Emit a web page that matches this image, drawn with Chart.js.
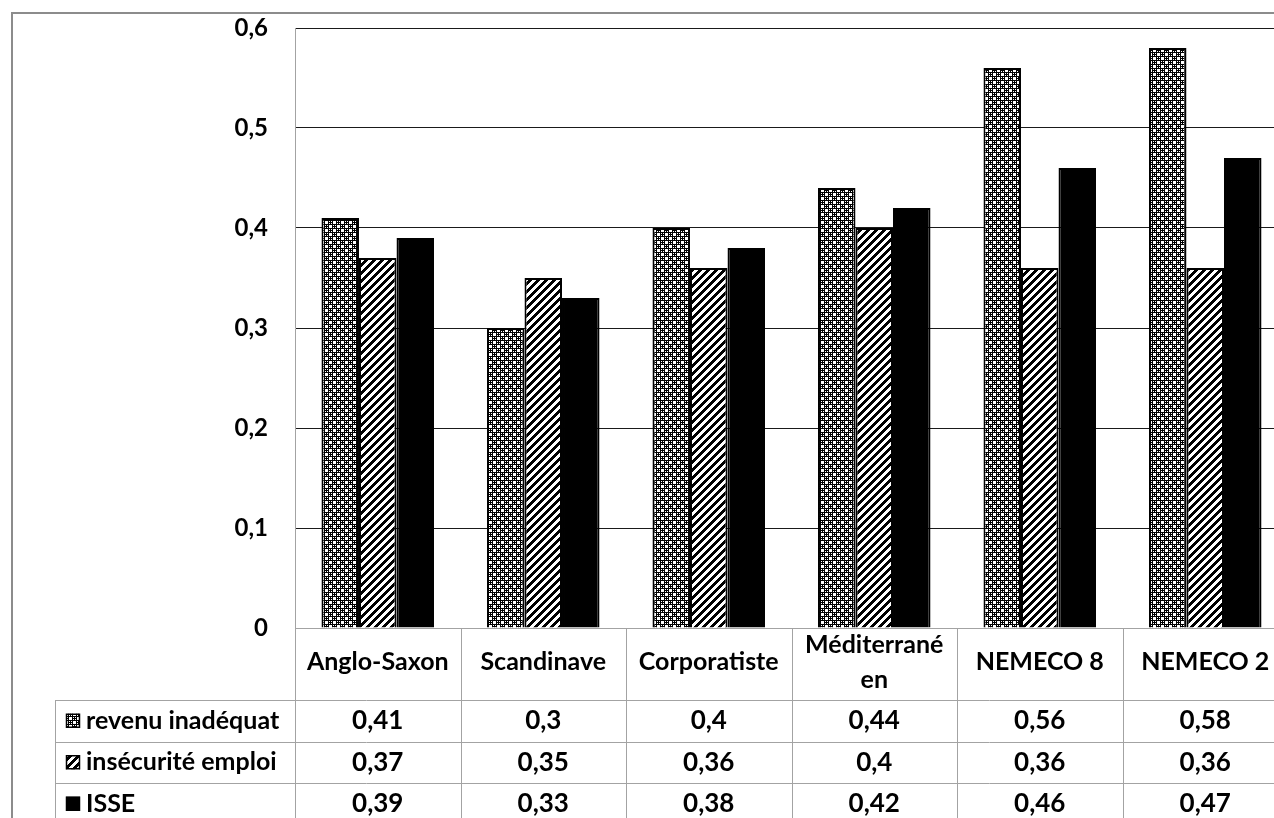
<!DOCTYPE html>
<html>
<head>
<meta charset="utf-8">
<script src="https://cdn.jsdelivr.net/npm/chart.js@4"></script>
<style>
  html, body { margin: 0; padding: 0; background: #fff; overflow: hidden; width: 1274px; height: 818px; }
  #wrap { position: absolute; left: 0; top: 0; width: 1300px; height: 840px; }
</style>
</head>
<body>
<div id="wrap"><canvas id="c" width="1300" height="840"></canvas></div>
<script>
// Regime categories (x axis) and the three indicators
const categories = ['Anglo-Saxon', 'Scandinave', 'Corporatiste', ['Méditerrané', 'en'], 'NEMECO 8', 'NEMECO 2'];
const seriesNames = ['revenu inadéquat', 'insécurité emploi', 'ISSE'];
const revenuInadequat = [0.41, 0.30, 0.40, 0.44, 0.56, 0.58];
const insecuriteEmploi = [0.37, 0.35, 0.36, 0.40, 0.36, 0.36];
const isse = [0.39, 0.33, 0.38, 0.42, 0.46, 0.47];
const yTicks = [0, 0.1, 0.2, 0.3, 0.4, 0.5, 0.6];

const FONT = 'Lato, "Open Sans", sans-serif';

// Fill patterns: dotted grey, diagonal stripes, solid black
function makeTile(size, painter) {
  const t = document.createElement('canvas');
  t.width = size; t.height = size;
  const g = t.getContext('2d');
  const img = g.createImageData(size, size);
  for (let y = 0; y < size; y++) {
    for (let x = 0; x < size; x++) {
      const black = painter(x, y);
      const i = (y * size + x) * 4;
      const v = black ? 0 : 255;
      img.data[i] = v; img.data[i + 1] = v; img.data[i + 2] = v; img.data[i + 3] = 255;
    }
  }
  g.putImageData(img, 0, 0);
  return t;
}
const ctx = document.getElementById('c').getContext('2d');
function isDot(x, y, cx, cy) {
  return (x === cx && Math.abs(y - cy) <= 1) || (y === cy && Math.abs(x - cx) <= 1);
}
const dotTile = makeTile(8, (x, y) => {
  if (isDot(x, y, 2, 2) || isDot(x, y, 6, 6)) return false;
  return !((x % 2 === 1) && (y % 2 === 1));
});
const stripeTile = makeTile(8, (x, y) => ((x + y) % 8) < 4);
const dotPattern = ctx.createPattern(dotTile, 'repeat');
const stripePattern = ctx.createPattern(stripeTile, 'repeat');
const fills = [dotPattern, stripePattern, '#000000'];

function fmt(v) {
  return v === 0 ? '0' : String(Math.round(v * 100) / 100).replace('.', ',');
}

// Outer frame and data table under the plot
const tablePlugin = {
  id: 'dataTable',
  afterDraw(chart) {
    const c = chart.ctx;
    const x = chart.scales.x;
    const area = chart.chartArea;
    const n = categories.length;
    const colW = (area.right - area.left) / n;
    const headerTop = area.bottom;
    const headerBottom = headerTop + 72;
    const rowH = 41.5;
    const tableLeft = 55;
    c.save();
    // frame
    c.strokeStyle = '#8c8c8c';
    c.lineWidth = 2;
    c.beginPath();
    c.moveTo(12, 2000); c.lineTo(12, 13); c.lineTo(2000, 13);
    c.stroke();

    c.strokeStyle = '#a3a3a3';
    c.lineWidth = 1;
    c.beginPath();
    for (let i = 0; i <= n; i++) {
      const px = Math.round(area.left + i * colW) + 0.5;
      c.moveTo(px, headerTop); c.lineTo(px, headerBottom + rowH * 3);
    }
    c.moveTo(tableLeft + 0.5, headerBottom); c.lineTo(tableLeft + 0.5, headerBottom + rowH * 3);
    for (let r = 0; r <= 3; r++) {
      const py = Math.round(headerBottom + r * rowH) + 0.5;
      c.moveTo(tableLeft, py); c.lineTo(area.right + 20, py);
    }
    c.stroke();

    c.fillStyle = '#000';
    c.textAlign = 'center';
    c.textBaseline = 'middle';
    c.font = 'bold 25px ' + FONT;
    categories.forEach((lab, i) => {
      const cx = x.getPixelForValue(i);
      const lines = Array.isArray(lab) ? lab : [lab];
      const lh = 35;
      const midY = (headerTop + headerBottom) / 2 - 2;
      lines.forEach((t, k) => {
        c.fillText(t, cx, midY + (k - (lines.length - 1) / 2) * lh);
      });
    });

    chart.data.datasets.forEach((ds, r) => {
      const cy = headerBottom + r * rowH + rowH / 2;
      // legend key
      c.fillStyle = fills[r];
      c.fillRect(66, cy - 7, 14, 14);
      c.strokeStyle = '#000';
      c.lineWidth = 1.5;
      c.strokeRect(66.5, cy - 6.5, 13, 13);
      c.fillStyle = '#000';
      c.textAlign = 'left';
      c.font = 'bold 25px ' + FONT;
      c.fillText(ds.label, 86, cy);
      c.textAlign = 'center';
      c.font = 'bold 26px ' + FONT;
      ds.data.forEach((v, i) => {
        c.fillText(fmt(v), x.getPixelForValue(i), cy);
      });
    });
    c.restore();
  }
};

new Chart(ctx, {
  type: 'bar',
  data: {
    labels: categories,
    datasets: [
      { label: seriesNames[0], data: revenuInadequat, backgroundColor: fills[0] },
      { label: seriesNames[1], data: insecuriteEmploi, backgroundColor: fills[1] },
      { label: seriesNames[2], data: isse, backgroundColor: fills[2] }
    ]
  },
  options: {
    responsive: false,
    animation: false,
    devicePixelRatio: 1,
    layout: { padding: { left: 0, top: 28, right: 12, bottom: 212 } },
    datasets: {
      bar: { borderColor: '#000', borderWidth: 2, categoryPercentage: 0.68, barPercentage: 1 }
    },
    plugins: {
      legend: { display: false },
      tooltip: { enabled: false },
      title: { display: false }
    },
    scales: {
      x: {
        display: false,
        grid: { display: false }
      },
      y: {
        min: 0,
        max: 0.6,
        afterBuildTicks(scale) { scale.ticks = yTicks.map(v => ({ value: v })); },
        afterFit(scale) {
          scale.width = 295;
          scale.paddingTop = 0;
          scale.paddingBottom = 0;
        },
        border: { color: '#a3a3a3', width: 1 },
        grid: {
          drawTicks: false,
          color: ctx => (ctx.tick && ctx.tick.value === 0) ? '#a3a3a3' : '#1a1a1a',
          lineWidth: 1
        },
        ticks: {
          padding: 27,
          color: '#000',
          font: { family: FONT, weight: 'bold', size: 24 },
          callback: v => fmt(v)
        }
      }
    }
  },
  plugins: [tablePlugin]
});
</script>
</body>
</html>
